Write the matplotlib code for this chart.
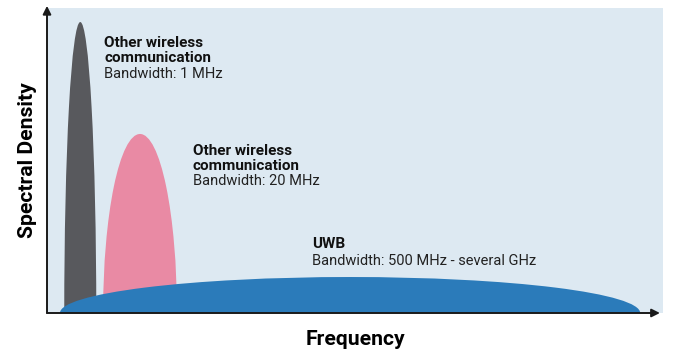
import matplotlib.pyplot as plt
from matplotlib.patches import Ellipse

plt.rcParams['font.family'] = ['Roboto', 'DejaVu Sans']

# spectra, in arbitrary units (axes run 0..100 both ways)
names = ["1 MHz", "20 MHz", "UWB"]
centers = [5.4, 15.1, 49.2]
half_widths = [2.6, 6.0, 47.1]
peaks = [95.4, 58.7, 11.8]
colors = ["#58595d", "#e98aa4", "#2b7bba"]

titles = ["Other wireless\ncommunication", "Other wireless\ncommunication", "UWB"]
subtitles = ["Bandwidth: 1 MHz", "Bandwidth: 20 MHz", "Bandwidth: 500 MHz - several GHz"]
label_x = [9.3, 23.7, 43.0]
title_y = [82.3, 46.9, 21.4]   # baseline of the last bold line
sub_y = [77.0, 42.0, 15.7]

fig = plt.figure(figsize=(6.8, 3.62), dpi=100)
ax = fig.add_axes([47 / 680, 49 / 362, 616 / 680, 305 / 362])
ax.set_facecolor("#dde9f2")
ax.set_xlim(0, 100)
ax.set_ylim(0, 100)

# each spectrum is the upper half of an ellipse sitting on the x axis
for cx, hw, pk, col in zip(centers, half_widths, peaks, colors):
    e = Ellipse((cx, 0), 2 * hw, 2 * pk, facecolor=col, edgecolor="none")
    ax.add_patch(e)

for t, s, x, ty, sy in zip(titles, subtitles, label_x, title_y, sub_y):
    ax.text(x, ty, t, fontsize=11, fontweight="bold", color="#111111",
            va="baseline", linespacing=1.1)
    ax.text(x, sy, s, fontsize=10.5, color="#222222", va="baseline")

for sp in ax.spines.values():
    sp.set_visible(False)
ax.set_xticks([])
ax.set_yticks([])

# axis arrows
ax.annotate("", xy=(0, 1.007), xytext=(0, 0), xycoords="axes fraction",
            arrowprops=dict(arrowstyle="-|>", color="#1a1a1a", lw=1.4,
                            mutation_scale=12, shrinkA=0, shrinkB=0),
            annotation_clip=False)
ax.annotate("", xy=(0.995, 0), xytext=(0, 0), xycoords="axes fraction",
            arrowprops=dict(arrowstyle="-|>", color="#1a1a1a", lw=1.4,
                            mutation_scale=12, shrinkA=0, shrinkB=0),
            annotation_clip=False)

ax.set_ylabel("Spectral Density", fontsize=15.2, fontweight="bold", labelpad=7)
ax.set_xlabel("Frequency", fontsize=15.2, fontweight="bold", labelpad=12)

fig.savefig("out.png", dpi=100)
